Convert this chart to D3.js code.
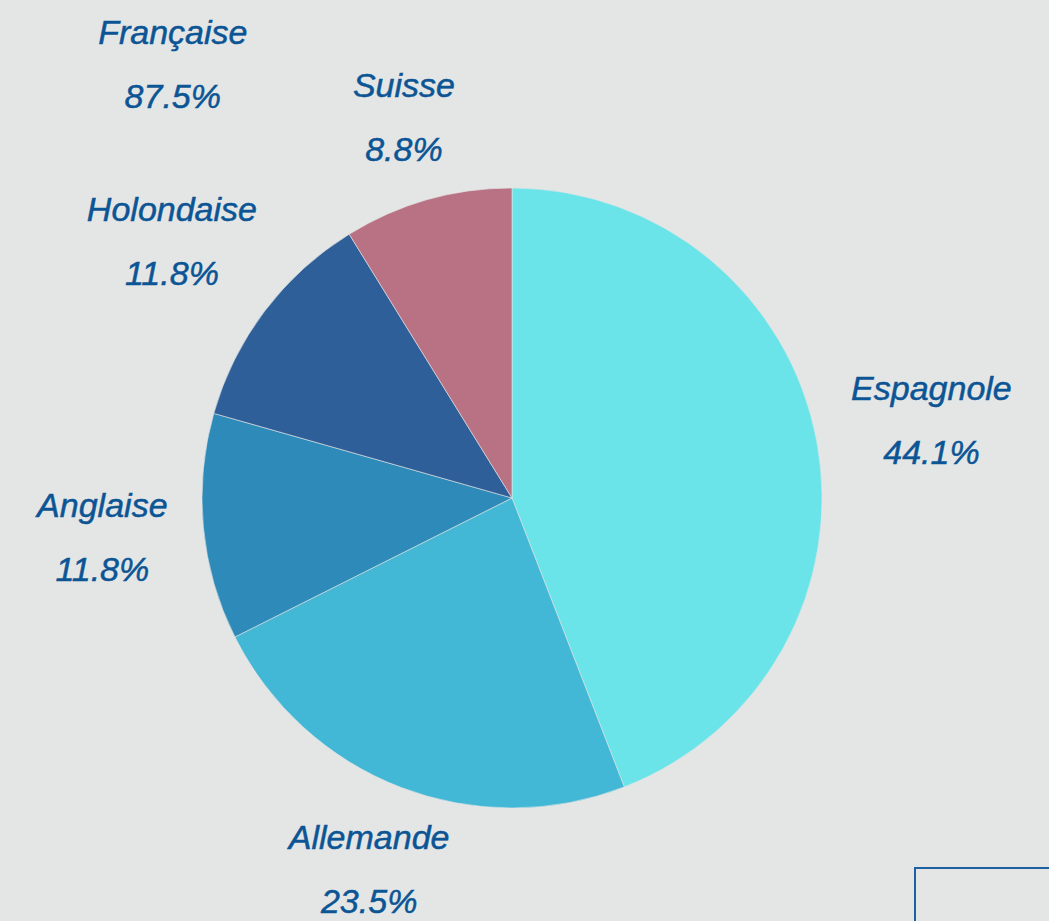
<!DOCTYPE html>
<html><head><meta charset="utf-8">
<script src="https://cdn.jsdelivr.net/npm/d3@7"></script>
<style>html,body{margin:0;padding:0;background:#e4e6e6;overflow:hidden}</style>
</head><body>
<svg id="c" width="1049" height="921"></svg>
<script>
const categories = ["Espagnole", "Allemande", "Anglaise", "Holondaise", "Suisse"];
const values = [44.1, 23.5, 11.8, 11.8, 8.8];
const colors = ["#6ae4e8", "#43b8d6", "#2e8ab8", "#2e5f98", "#b97284"];
const extraLabel = ["Française"];
const extraValue = [87.5];

const W = 1049, H = 921, cx = 512, cy = 498, R = 310;
const textColor = "#0c5595";
const svg = d3.select("#c");
svg.append("rect").attr("width", W).attr("height", H).attr("fill", "#e4e6e6");

const g = svg.append("g").attr("transform", `translate(${cx},${cy})`);
const data = categories.map((c, i) => ({ name: c, value: values[i], color: colors[i] }));
const pie = d3.pie().value(d => d.value).sort(null);
const arcs = pie(data);
const arc = d3.arc().innerRadius(0).outerRadius(R);

g.selectAll("path").data(arcs).join("path")
  .attr("d", arc).attr("fill", d => d.data.color)
  .attr("stroke", "#e4e6e6").attr("stroke-width", 0.6);

const fmt = v => d3.format(".1f")(v) + "%";
const fontSize = 34, lineGap = 64;

function addLabel(parent, name, val) {
  const t = parent.append("g");
  t.append("text").attr("text-anchor", "middle").attr("y", -lineGap / 2 + fontSize * 0.36).text(name);
  t.append("text").attr("text-anchor", "middle").attr("y", lineGap / 2 + fontSize * 0.36).text(fmt(val));
  t.selectAll("text").attr("font-family", "Liberation Sans, Arial, sans-serif")
    .attr("font-style", "italic").attr("font-size", fontSize).attr("fill", textColor)
    .attr("stroke", textColor).attr("stroke-width", 0.5);
  return t;
}

const R0 = 345;
arcs.forEach(a => {
  const t = addLabel(g, a.data.name, a.data.value);
  const bb = t.node().getBBox();
  const hw = bb.width / 2, hh = (lineGap + fontSize) / 2;
  const th = (a.startAngle + a.endAngle) / 2;
  const s = Math.sin(th), c = Math.cos(th);
  const tt = Math.min(Math.abs(s) > 1e-6 ? hw / Math.abs(s) : Infinity, Math.abs(c) > 1e-6 ? hh / Math.abs(c) : Infinity);
  const [x, y] = d3.pointRadial(th, R0 + tt);
  t.attr("transform", `translate(${x},${y})`);
});

// extra label (no slice)
const ex = addLabel(g, extraLabel[0], extraValue[0]);
const [exX, exY] = d3.pointRadial(-38 * Math.PI / 180, 551);
ex.attr("transform", `translate(${exX},${exY})`);

// partial box bottom-right
svg.append("rect").attr("x", 915).attr("y", 868).attr("width", 200).attr("height", 120)
  .attr("fill", "none").attr("stroke", "#1c62a3").attr("stroke-width", 2);
</script>
</body></html>
